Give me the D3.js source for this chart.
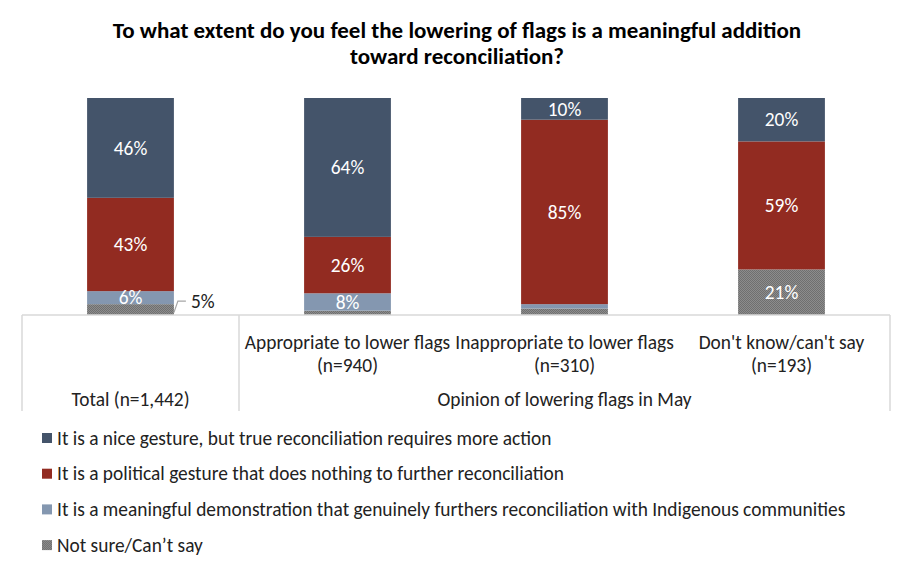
<!DOCTYPE html>
<html>
<head>
<meta charset="utf-8">
<script src="https://cdn.jsdelivr.net/npm/d3@7"></script>
<style>
  body { margin: 0; background: #fff; }
  svg { font-family: Carlito, Calibri, "Liberation Sans", Arial, sans-serif; }
</style>
</head>
<body>
<svg id="chart"></svg>
<script>
// data
const categories = ["Total", "Appropriate", "Inappropriate", "DontKnow"];
const categoryLines = [
  ["Total (n=1,442)"],
  ["Appropriate to lower flags", "(n=940)"],
  ["Inappropriate to lower flags", "(n=310)"],
  ["Don't know/can't say", "(n=193)"]
];
const seriesNames = [
  "It is a nice gesture, but true reconciliation requires more action",
  "It is a political gesture that does nothing to further reconciliation",
  "It is a meaningful demonstration that genuinely furthers reconciliation with Indigenous communities",
  "Not sure/Can\u2019t say"
];
const niceGesture = [46, 64, 10, 20];
const politicalGesture = [43, 26, 85, 59];
const meaningful = [6, 8, 2, 0];
const notSure = [5, 2, 3, 21];
const groupLabel = "Opinion of lowering flags in May";
const title = ["To what extent do you feel the lowering of flags is a meaningful addition", "toward reconciliation?"];

const width = 912, height = 572;
const fs = 19.4;
const svg = d3.select("#chart").attr("width", width).attr("height", height);

// checkered fill for "not sure"
const defs = svg.append("defs");
const pat = defs.append("pattern")
  .attr("id", "checker")
  .attr("width", 2).attr("height", 2)
  .attr("patternUnits", "userSpaceOnUse");
pat.append("rect").attr("width", 2).attr("height", 2).attr("fill", "#8c8c8c");
pat.append("rect").attr("width", 1).attr("height", 1).attr("fill", "#6f6f6f");
pat.append("rect").attr("x", 1).attr("y", 1).attr("width", 1).attr("height", 1).attr("fill", "#6f6f6f");

const colors = ["#44546a", "#922b21", "#8497b0", "url(#checker)"];

const rows = categories.map((c, i) => ({
  cat: c, s0: niceGesture[i], s1: politicalGesture[i], s2: meaningful[i], s3: notSure[i]
}));
const keys = ["s3", "s2", "s1", "s0"]; // stacked from the bottom
const colorOf = { s0: colors[0], s1: colors[1], s2: colors[2], s3: colors[3] };
const stacked = d3.stack().keys(keys)(rows);

const x = d3.scaleBand().domain(categories).range([22, 890]).paddingInner(0.6).paddingOuter(0.3);
const y = d3.scaleLinear().domain([0, 100]).range([315, 98]);

// title
svg.append("text")
  .attr("x", 457).attr("y", 38)
  .attr("text-anchor", "middle")
  .attr("font-weight", "bold")
  .attr("font-size", 23)
  .selectAll("tspan").data(title).join("tspan")
  .attr("x", 457).attr("dy", (d, i) => i ? 26 : 0)
  .text(d => d);

// bars
const layer = svg.append("g").selectAll("g").data(stacked).join("g")
  .attr("fill", d => colorOf[d.key]);
layer.selectAll("rect").data(d => d).join("rect")
  .attr("x", d => x(d.data.cat))
  .attr("width", x.bandwidth())
  .attr("y", d => y(d[1]))
  .attr("height", d => y(d[0]) - y(d[1]));

// data labels
stacked.forEach(s => {
  s.forEach(d => {
    const v = d[1] - d[0];
    if (v < 5) return;
    const x0 = x(d.data.cat), yTop = y(d[1]), yBot = y(d[0]);
    if (yBot - yTop < 13) {
      // callout outside the bar
      svg.append("polyline")
        .attr("points", `${x0 + x.bandwidth()},${(yTop + yBot) / 2 + 3} ${x0 + x.bandwidth() + 4},${yTop - 3} ${x0 + x.bandwidth() + 12},${yTop - 3}`)
        .attr("fill", "none").attr("stroke", "#a6a6a6").attr("stroke-width", 1.2);
      svg.append("text")
        .attr("x", x0 + x.bandwidth() + 17).attr("y", yTop - 3)
        .attr("dy", "0.35em")
        .attr("font-size", fs).attr("fill", "#222")
        .text(v + "%");
    } else {
      svg.append("text")
        .attr("x", x0 + x.bandwidth() / 2).attr("y", (yTop + yBot) / 2)
        .attr("dy", "0.35em")
        .attr("text-anchor", "middle")
        .attr("font-size", fs).attr("fill", "#fff")
        .text(v + "%");
    }
  });
});

// axis and category grid
const gridColor = "#d9d9d9";
const axisG = svg.append("g").attr("stroke", gridColor).attr("stroke-width", 1.5);
axisG.append("line").attr("x1", 22).attr("x2", 890).attr("y1", 315).attr("y2", 315);
const step = x.step();
const dividers = [22, x(categories[1]) - (step - x.bandwidth()) / 2, 890];
axisG.selectAll("line.div").data(dividers).join("line")
  .attr("class", "div")
  .attr("x1", d => d).attr("x2", d => d)
  .attr("y1", 315).attr("y2", 411);

svg.append("g").selectAll("text").data(categories.slice(1)).join("text")
  .attr("text-anchor", "middle")
  .attr("font-size", fs).attr("fill", "#222")
  .attr("x", d => x(d) + x.bandwidth() / 2)
  .attr("y", 349)
  .selectAll("tspan").data((d, i) => categoryLines[i + 1].map(t => ({ t, cx: x(d) + x.bandwidth() / 2 })))
  .join("tspan")
  .attr("x", d => d.cx).attr("dy", (d, i) => i ? 23 : 0)
  .text(d => d.t);

svg.append("text")
  .attr("x", x(categories[0]) + x.bandwidth() / 2).attr("y", 406)
  .attr("text-anchor", "middle").attr("font-size", fs).attr("fill", "#222")
  .text(categoryLines[0][0]);

svg.append("text")
  .attr("x", (dividers[1] + 890) / 2).attr("y", 406)
  .attr("text-anchor", "middle").attr("font-size", fs).attr("fill", "#222")
  .text(groupLabel);

// legend
const legend = svg.append("g").selectAll("g").data(seriesNames).join("g")
  .attr("transform", (d, i) => `translate(42, ${438 + i * 35.7})`);
legend.append("rect")
  .attr("y", -5).attr("width", 10).attr("height", 10)
  .attr("fill", (d, i) => colors[i]);
legend.append("text")
  .attr("x", 15).attr("dy", "0.35em")
  .attr("font-size", fs).attr("fill", "#222")
  .text(d => d);
</script>
</body>
</html>
